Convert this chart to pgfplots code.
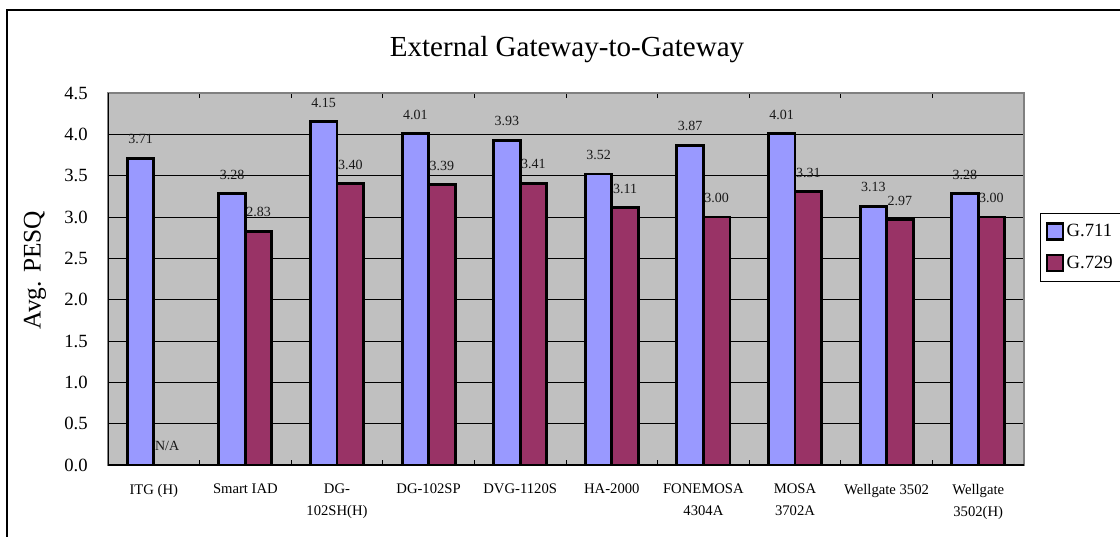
\documentclass[border=0pt]{standalone}
\usepackage{fontspec}
\setmainfont{Liberation Serif}
\usepackage{pgfplots}
\usepackage{pgfplotstable}
\pgfplotsset{compat=1.18}
\definecolor{bblue}{HTML}{9999FF}
\definecolor{bmaroon}{HTML}{993366}
\definecolor{plotbg}{HTML}{C0C0C0}
\definecolor{plotedge}{HTML}{808080}
\pgfplotstableread{
x a alab b blab
0 3.71 3.71 0.00 N/A
1 3.28 3.28 2.83 2.83
2 4.15 4.15 3.40 3.40
3 4.01 4.01 3.39 3.39
4 3.93 3.93 3.41 3.41
5 3.52 3.52 3.11 3.11
6 3.87 3.87 3.00 3.00
7 4.01 4.01 3.31 3.31
8 3.13 3.13 2.97 2.97
9 3.28 3.28 3.00 3.00
}\data
\begin{document}
\begin{tikzpicture}
\useasboundingbox (0pt,0pt) rectangle (840pt,402pt);
\draw[line width=0.9pt] (5.25pt,-15pt) -- (5.25pt,394.5pt) -- (855pt,394.5pt);
\node[font=\fontsize{21.8}{26}\selectfont, anchor=base] at (425.25pt,359.25pt) {External Gateway-to-Gateway};
\node[rotate=90,font=\fontsize{19}{22}\selectfont] at (26.25pt,199.5pt) {Avg. PESQ};
\begin{axis}[
  at={(81pt,53.25pt)}, anchor=south west,
  scale only axis, width=687pt, height=279pt,
  xmin=-0.5, xmax=9.5, ymin=0, ymax=4.5,
  ybar=0pt, bar width=0.29,
  axis background/.style={fill=plotbg},
  axis line style={draw=plotedge, line width=1.5pt},
  ymajorgrids, major grid style={black, line width=0.6pt},
  ytick={0,0.5,...,4.5},
  yticklabel style={/pgf/number format/fixed, /pgf/number format/fixed zerofill, /pgf/number format/precision=1, /pgf/number format/assume math mode=true, font=\fontsize{14}{17}\selectfont, inner sep=0pt, xshift=-15pt},
  tick align=inside, major tick length=6.75pt, minor tick length=4pt,
  tick style={black, line width=0.75pt},
  major x tick style={draw=none},
  xtick={0,...,9},
  minor xtick={-0.5,0.5,...,9.5},
  xticklabels={ITG (H), Smart IAD, {DG-\\102SH(H)}, DG-102SP, DVG-1120S, HA-2000, {FONEMOSA\\4304A}, {MOSA\\3702A}, Wellgate 3502, {Wellgate\\3502(H)}},
  xticklabel style={align=center, font=\fontsize{11}{16.5}\selectfont, anchor=north, inner sep=0pt, yshift=-14pt},
  nodes near coords, point meta=explicit symbolic,
  every node near coord/.append style={font=\fontsize{10.5}{12}\selectfont, inner sep=0pt, anchor=south, yshift=9.5pt, text=black!90},
  legend entries={G.711\hspace{14pt}, G.729\hspace{14pt}},
  legend cell align=left,
  every axis plot post/.append style={legend image code/.code={\draw[#1, draw=black, line width=1.6pt] (0pt,-6pt) rectangle (12pt,6pt);}},
  legend style={at={(1.0175,0.677)}, anchor=north west, draw=black, line width=0.75pt, font=\fontsize{14}{17}\selectfont, row sep=9pt, inner xsep=4pt, inner ysep=6pt},
]
\addplot[fill=bblue, draw=black, line width=2.2pt, line join=miter] table[x=x, y=a, meta=alab] {\data};
\addplot[fill=bmaroon, draw=black, line width=2.2pt, line join=miter] table[x=x, y=b, meta=blab] {\data};
\draw[black, line width=1.5pt] (rel axis cs:0,1) -- (rel axis cs:0,0) -- (rel axis cs:1,0);
\end{axis}
\end{tikzpicture}
\end{document}
